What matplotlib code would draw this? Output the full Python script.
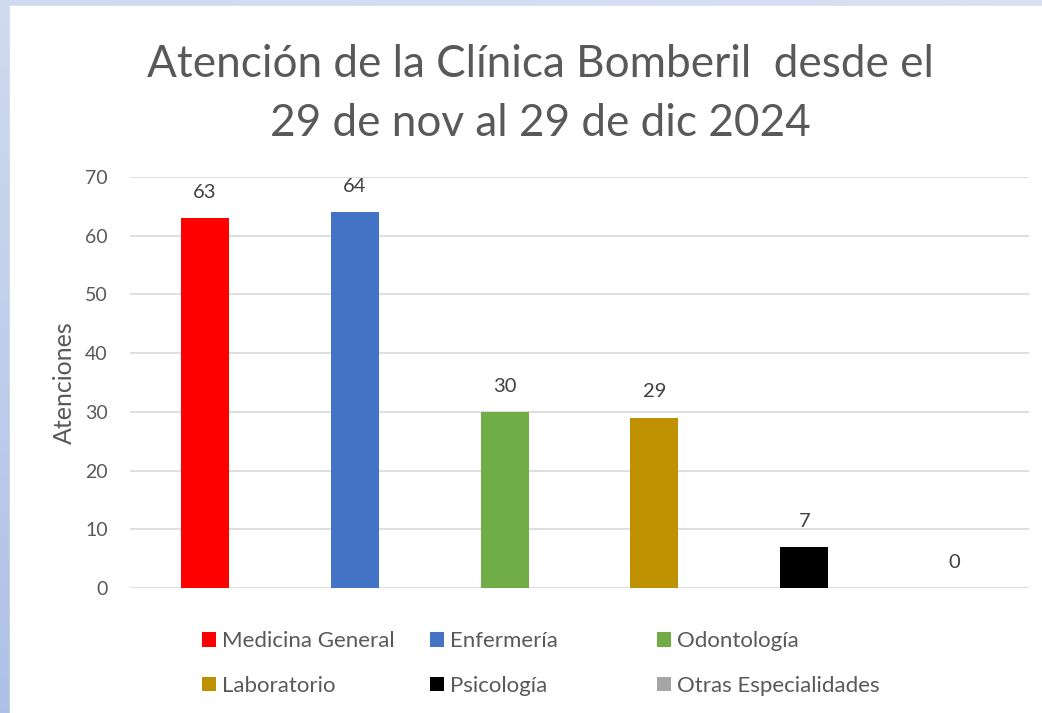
import numpy as np
import matplotlib
matplotlib.use("Agg")
import matplotlib.pyplot as plt
from matplotlib.patches import Rectangle, Patch

categories = ["Medicina General", "Enfermería", "Odontología",
              "Laboratorio", "Psicología", "Otras Especialidades"]
values = [63, 64, 30, 29, 7, 0]
colors = ["#FF0000", "#4472C4", "#70AD47", "#BF9000", "#000000", "#A5A5A5"]
yticks = [0, 10, 20, 30, 40, 50, 60, 70]
title = "Atención de la Clínica Bomberil  desde el\n29 de nov al 29 de dic 2024"
ylabel = "Atenciones"

FONT = ["Lato", "DejaVu Sans"]
TXT = "#595959"

W, H = 1042, 713
fig = plt.figure(figsize=(W / 100, H / 100), dpi=100)

# background gradient
bg = fig.add_axes([0, 0, 1, 1], zorder=-10)
bg.set_axis_off()
yy = np.linspace(0, 1, 200)[:, None]
xx = np.linspace(0, 1, 200)[None, :]
top = np.array([0.85, 0.88, 0.95])
bot = np.array([0.68, 0.76, 0.90])
t = (yy * 0.8 + (1 - xx) * 0.2)
img = top[None, None, :] * (1 - t[..., None]) + bot[None, None, :] * t[..., None]
bg.imshow(img, extent=[0, 1, 0, 1], aspect="auto", origin="upper")
bg.add_patch(Rectangle((10 / W, 0), 1, 1 - 6 / H, color="white", transform=bg.transAxes))
bg.set_xlim(0, 1)
bg.set_ylim(0, 1)

ax = fig.add_axes([130 / W, 1 - 588 / H, 899 / W, (588 - 177) / H])
x = np.arange(len(categories))
ax.bar(x, values, width=0.32, color=colors, zorder=3)
for xi, v in zip(x, values):
    ax.text(xi, v + 4.4, str(v), ha="center", va="center", fontsize=14.5,
            color="#404040", family=FONT)
ax.set_xlim(-0.5, len(categories) - 0.5)
ax.set_ylim(0, 70)
ax.set_yticks(yticks)
ax.set_yticklabels([str(v) for v in yticks], family=FONT, fontsize=14, color=TXT)
ax.set_xticks([])
ax.tick_params(axis="y", length=0, pad=16)
ax.grid(axis="y", color="#D9D9D9", linewidth=1.2, zorder=0)
for s in ax.spines.values():
    s.set_visible(False)
ax.set_ylabel(ylabel, family=FONT, fontsize=18, color=TXT)
ax.yaxis.set_label_coords((76 - 130) / 899, (588 - 383) / (588 - 177))

fig.text(540 / W, 1 - 94 / H, title, ha="center", va="center", family=FONT,
         fontsize=31.8, color=TXT, linespacing=1.55)

handles = [Patch(facecolor=c, edgecolor="none") for c in colors]
col_x = [202, 430, 657]
for ci, cx in enumerate(col_x):
    idx = [ci, ci + 3]
    fig.legend([handles[i] for i in idx], [categories[i] for i in idx],
               loc="center left", bbox_to_anchor=(cx / W, 1 - 663.5 / H),
               frameon=False, prop={"family": FONT, "size": 16},
               labelcolor=TXT, borderpad=0, borderaxespad=0,
               handlelength=0.63, handleheight=0.63, handletextpad=0.27,
               labelspacing=1.1)

fig.savefig("out.png", dpi=100)
